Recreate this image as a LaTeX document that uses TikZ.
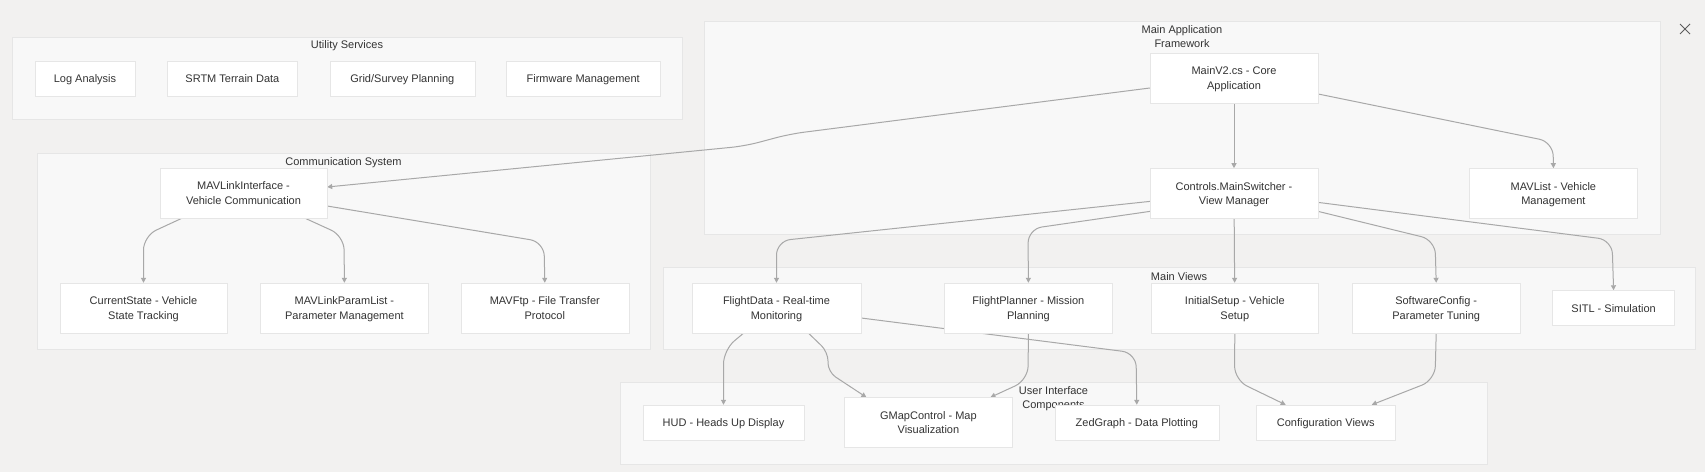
\documentclass[tikz,border=0pt]{standalone}
\usepackage{fontspec}
\setmainfont{Liberation Sans}
\usepackage{tikz}
\usepackage{xcolor}
\usetikzlibrary{arrows.meta,positioning}

\definecolor{canvas}{HTML}{F2F1F0}
\definecolor{groupfill}{HTML}{F8F8F8}
\definecolor{groupline}{HTML}{E6E6E6}
\definecolor{boxline}{HTML}{E6E6E6}
\definecolor{wiregray}{HTML}{A8A8A8}
\definecolor{ink}{HTML}{333333}

\pgfdeclarelayer{paper}
\pgfdeclarelayer{back}
\pgfdeclarelayer{wires}
\pgfsetlayers{paper,back,wires,main}

\begin{document}
\begin{tikzpicture}[
      x=1pt, y=-1pt,
      >={Triangle[length=5pt,width=5pt]},
      font=\fontsize{11}{14.7}\selectfont, text=ink,
      box/.style={draw=boxline, fill=white, align=center, inner sep=0pt,
        minimum height=50pt, text height=22.7pt, text depth=0pt},
      lowbox/.style={box, minimum height=35pt, text height=8pt},
      group/.style={draw=groupline, fill=groupfill, line width=1pt},
      grouptitle/.style={align=center, inner sep=0pt, text height=8pt, text depth=0pt},
      wire/.style={->, draw=wiregray, line width=1pt, rounded corners=14pt}
    ]
    \useasboundingbox (0,0) rectangle (1705,472);
    \begin{pgfonlayer}{paper}
      \fill[canvas] (0,0) rectangle (1705,472);
    \end{pgfonlayer}

    % utility services
    \node[lowbox, minimum width=100pt] (log) at (85,78.5) {Log Analysis};
    \node[lowbox, minimum width=130pt, right=32pt of log] (srtm) {SRTM Terrain Data};
    \node[lowbox, minimum width=145pt, right=32pt of srtm] (grid) {Grid/Survey Planning};
    \node[lowbox, minimum width=154pt, right=31pt of grid] (fw) {Firmware Management};

    % main application framework
    \node[box, minimum width=168pt] (mainv) at (1234,78) {MainV2.cs - Core\\Application};
    \node[box, minimum width=168pt, below=65pt of mainv] (switcher) {Controls.MainSwitcher -\\View Manager};
    \node[box, minimum width=168pt, right=151pt of switcher] (mavlist) {MAVList - Vehicle\\Management};

    % communication system
    \node[box, minimum width=167pt] (mli) at (243.5,193) {MAVLinkInterface -\\Vehicle Communication};
    \node[box, minimum width=167pt] (curstate) at (143.5,308) {CurrentState - Vehicle\\State Tracking};
    \node[box, minimum width=168pt, right=33pt of curstate] (paramlist) {MAVLinkParamList -\\Parameter Management};
    \node[box, minimum width=168pt, right=32pt of paramlist] (ftp) {MAVFtp - File Transfer\\Protocol};

    % main views
    \node[box, minimum width=169pt] (fdata) at (776.5,308) {FlightData - Real-time\\Monitoring};
    \node[box, minimum width=168pt, right=83pt of fdata] (fplan) {FlightPlanner - Mission\\Planning};
    \node[box, minimum width=167pt, right=38.5pt of fplan] (isetup) {InitialSetup - Vehicle\\Setup};
    \node[box, minimum width=168pt, right=33.5pt of isetup] (swconf) {SoftwareConfig -\\Parameter Tuning};
    \node[lowbox, minimum width=122pt, right=32pt of swconf] (sitl) {SITL - Simulation};

    % user interface components
    \node[lowbox, minimum width=161pt] (hud) at (723.5,422.5) {HUD - Heads Up Display};
    \node[box, minimum width=168pt, right=40pt of hud] (gmap) {GMapControl - Map\\Visualization};
    \node[lowbox, minimum width=164pt, right=42pt of gmap] (zed) {ZedGraph - Data Plotting};
    \node[lowbox, minimum width=139pt, right=37pt of zed] (cfgviews) {Configuration Views};

    \begin{pgfonlayer}{back}
      \draw[group] (12.5,37) rectangle (682,119);
      \node[grouptitle] (utiltitle) at (347,44) {Utility Services};
      \draw[group] (704,21) rectangle (1660,234);
      \node[grouptitle, text height=22.7pt] (apptitle) at (1182,36.5) {Main Application\\Framework};
      \draw[group] (37,153) rectangle (650,349);
      \node[grouptitle] (commtitle) at (343.5,161) {Communication System};
      \draw[group] (663,267) rectangle (1695,349);
      \node[grouptitle] (viewtitle) at (1179,276) {Main Views};
      \draw[group] (620,382) rectangle (1487,464);
      \node[grouptitle, text height=22.7pt] (uititle) at (1053.5,397.5) {User Interface\\Components};
    \end{pgfonlayer}

    \begin{pgfonlayer}{wires}
      \draw[wire] ([yshift=-10pt]mainv.west) -- (790,134) -- (745,146) -- ([yshift=6pt]mli.east);
      \draw[wire] (mainv) -- (switcher);
      \draw[wire] ([yshift=-16pt]mainv.east) -- (1553,142) -- (mavlist.north);
      \draw[wire] ([xshift=-61.5pt]mli.south) -- (143.5,236) -- (curstate.north);
      \draw[wire] ([xshift=61.5pt]mli.south) -- (344,236) -- (paramlist.north);
      \draw[wire] ([yshift=-13pt]mli.east) -- (544,242) -- (ftp.north);
      \draw[wire] ([yshift=-8pt]switcher.west) -- (776.5,241) -- (fdata.north);
      \draw[wire] ([yshift=-18pt]switcher.west) -- (1028,229) -- (fplan.north);
      \draw[wire] (switcher) -- (isetup);
      \draw[wire] ([yshift=-18pt]switcher.east) -- (1435,240) -- (swconf.north);
      \draw[wire] ([yshift=-9pt]switcher.east) -- (1612,240) -- (sitl.north);
      \draw[wire] ([xshift=-33pt]fdata.south) -- (723.5,350) -- (hud.north);
      \draw[wire, rounded corners=9pt] ([xshift=32pt]fdata.south) -- (828,352) -- (828,372) -- ([xshift=-62pt]gmap.north);
      \draw[wire] ([yshift=-10pt]fdata.east) -- (1136,353) -- (zed.north);
      \draw[wire] (fplan.south) -- (1028,380) -- ([xshift=62pt]gmap.north);
      \draw[wire] (isetup.south) -- (1234.5,380) -- ([xshift=-40pt]cfgviews.north);
      \draw[wire] (swconf.south) -- (1435,380) -- ([xshift=46pt]cfgviews.north);
    \end{pgfonlayer}

    % close mark
    \draw[ink!80, line width=0.8pt] (1680,24) -- (1690,34) (1690,24) -- (1680,34);
  \end{tikzpicture}
\end{document}
